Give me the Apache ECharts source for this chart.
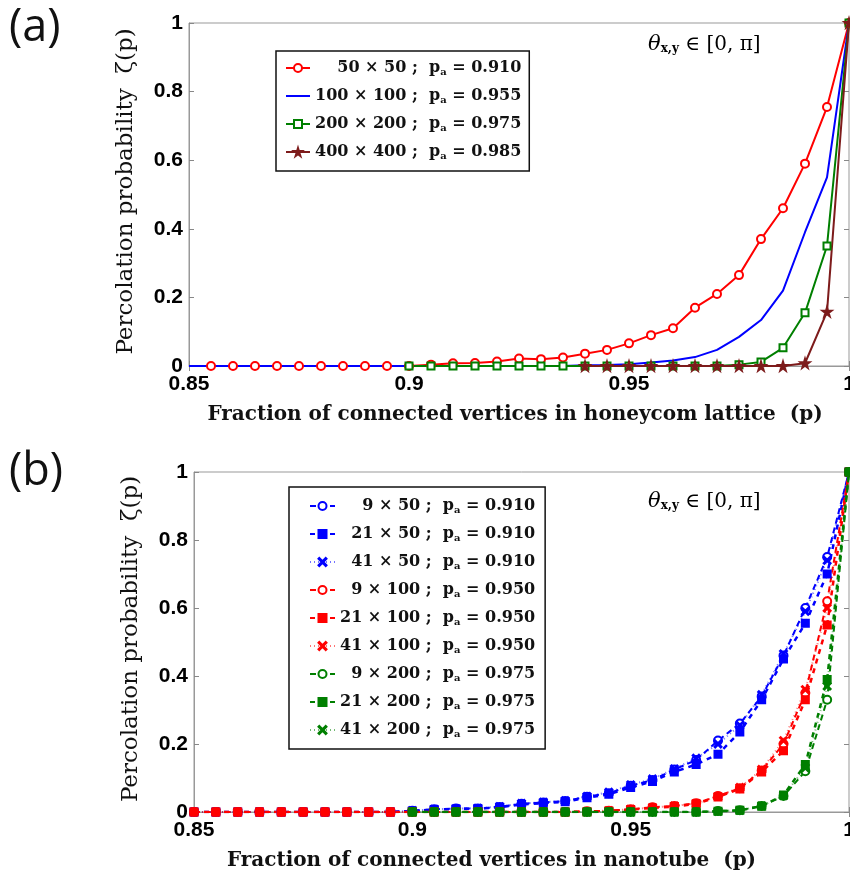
<!DOCTYPE html>
<html>
<head>
<meta charset="utf-8">
<title>Percolation probability</title>
<script src="https://cdn.jsdelivr.net/npm/echarts@6/dist/echarts.min.js"></script>
<style>
  html, body { margin: 0; padding: 0; background: #fff; }
  #chart { width: 850px; height: 877px; }
</style>
</head>
<body>
<div id="chart"></div>
<script>
/* two stacked panels: (a) honeycomb lattice, (b) nanotube */

// --- data ---
const P = [0.85, 0.855, 0.86, 0.865, 0.87, 0.875, 0.88, 0.885, 0.89, 0.895,
           0.9, 0.905, 0.91, 0.915, 0.92, 0.925, 0.93, 0.935, 0.94, 0.945,
           0.95, 0.955, 0.96, 0.965, 0.97, 0.975, 0.98, 0.985, 0.99, 0.995, 1.0];

// panel (a)
const SIZES_A = ['50 × 50', '100 × 100', '200 × 200', '400 × 400'];
const PA_A    = ['0.910', '0.955', '0.975', '0.985'];
const START_A = [0.855, 0.85, 0.9, 0.94];
const A_50  = [0, 0, 0, 0, 0, 0, 0, 0, 0,
               0, 0.004, 0.008, 0.009, 0.013, 0.022, 0.02, 0.025, 0.036, 0.047,
               0.066, 0.09, 0.11, 0.17, 0.21, 0.265, 0.37, 0.46, 0.59, 0.755, 1];
const A_100 = [0, 0, 0, 0, 0, 0, 0, 0, 0, 0,
               0, 0, 0, 0, 0, 0, 0, 0, 0.002, 0.003,
               0.005, 0.01, 0.016, 0.026, 0.047, 0.085, 0.134, 0.22, 0.39, 0.55, 1];
const A_200 = [0, 0, 0, 0, 0, 0, 0, 0, 0, 0,
               0, 0, 0, 0, 0, 0.004, 0.012, 0.053, 0.155, 0.35, 1];
const A_400 = [0, 0, 0, 0, 0, 0, 0, 0, 0, 0, 0.008, 0.158, 1];

// panel (b)
const SIZES_B = ['9 × 50', '21 × 50', '41 × 50', '9 × 100', '21 × 100', '41 × 100',
                 '9 × 200', '21 × 200', '41 × 200'];
const PA_B    = ['0.910', '0.910', '0.910', '0.950', '0.950', '0.950',
                 '0.975', '0.975', '0.975'];
const START_B = [0.85, 0.85, 0.85, 0.85, 0.85, 0.85, 0.9, 0.9, 0.9];
const B_9_50   = [0, 0, 0, 0, 0, 0, 0, 0, 0, 0,
                  0.004, 0.008, 0.01, 0.01, 0.015, 0.024, 0.028, 0.032, 0.045, 0.055,
                  0.077, 0.094, 0.125, 0.153, 0.21, 0.26, 0.34, 0.46, 0.60, 0.75, 1];
const B_21_50  = [0, 0, 0, 0, 0, 0, 0, 0, 0, 0,
                  0.003, 0.007, 0.009, 0.01, 0.014, 0.022, 0.026, 0.03, 0.042, 0.052,
                  0.072, 0.09, 0.118, 0.14, 0.17, 0.235, 0.33, 0.45, 0.555, 0.70, 1];
const B_41_50  = [0, 0, 0, 0, 0, 0, 0, 0, 0, 0,
                  0.004, 0.008, 0.01, 0.011, 0.016, 0.025, 0.029, 0.033, 0.046, 0.058,
                  0.08, 0.097, 0.127, 0.158, 0.2, 0.255, 0.345, 0.465, 0.59, 0.74, 1];
const B_9_100  = [0, 0, 0, 0, 0, 0, 0, 0, 0, 0,
                  0, 0, 0, 0, 0, 0, 0, 0, 0.002, 0.004,
                  0.008, 0.014, 0.018, 0.026, 0.047, 0.07, 0.122, 0.2, 0.35, 0.62, 1];
const B_21_100 = [0, 0, 0, 0, 0, 0, 0, 0, 0, 0,
                  0, 0, 0, 0, 0, 0, 0, 0, 0.001, 0.003,
                  0.007, 0.012, 0.016, 0.024, 0.044, 0.068, 0.118, 0.18, 0.33, 0.55, 1];
const B_41_100 = [0, 0, 0, 0, 0, 0, 0, 0, 0, 0,
                  0, 0, 0, 0, 0, 0, 0, 0, 0.002, 0.004,
                  0.008, 0.013, 0.018, 0.025, 0.046, 0.072, 0.125, 0.21, 0.36, 0.60, 1];
const B_9_200  = [0, 0, 0, 0, 0, 0, 0, 0, 0, 0,
                  0, 0, 0, 0, 0.003, 0.005, 0.018, 0.047, 0.12, 0.33, 1];
const B_21_200 = [0, 0, 0, 0, 0, 0, 0, 0, 0, 0,
                  0, 0, 0, 0, 0.002, 0.005, 0.017, 0.05, 0.14, 0.39, 1];
const B_41_200 = [0, 0, 0, 0, 0, 0, 0, 0, 0, 0,
                  0, 0, 0, 0, 0.002, 0.005, 0.018, 0.048, 0.13, 0.37, 1];

// --- styling helpers ---
const SERIF = '"DejaVu Serif", "Liberation Serif", serif';
const SANS  = '"Liberation Sans", Arial, sans-serif';
const STAR  = 'path://M50,0 L61,35 L98,35 L68,57 L79,91 L50,70 L21,91 L32,57 L2,35 L39,35Z';
const CROSS = 'path://M1,0 L5,4 L9,0 L10,1 L6,5 L10,9 L9,10 L5,6 L1,10 L0,9 L4,5 L0,1Z';

const RED = '#ff0000', BLUE = '#0000ff', GREEN = '#007f00', BROWN = '#7d1b1b';

function pairs(values, start) {
  const xs = P.slice(P.indexOf(start));
  return values.map((v, i) => [xs[i], v]);
}
function seriesName(size, pa) { return size + ' ; pa = ' + pa; }

// right-align the lattice sizes by padding with figure spaces (digit width)
function richLabel(size, pa, digits) {
  const pad = '\u2007'.repeat(digits - size.replace(/\D/g, '').length);
  return '{t|' + pad + size + ' ;  p}{s|a}{t| = ' + pa + '}';
}

const labelOf = {};
SIZES_A.forEach((s, i) => { labelOf[seriesName(s, PA_A[i])] = richLabel(s, PA_A[i], 6); });
SIZES_B.forEach((s, i) => { labelOf[seriesName(s, PA_B[i])] = richLabel(s, PA_B[i], 5); });

const legendRich = {
  t: { fontFamily: SERIF, fontWeight: 'bold', fontSize: 16, lineHeight: 20, color: '#111' },
  s: { fontFamily: SERIF, fontWeight: 'bold', fontSize: 10, lineHeight: 20, padding: [8, 0, 0, 0], color: '#111' }
};

// --- axes (bottom/left with labels, top/right mirrored ticks only) ---
function xAxes(gridIndex, title, padRight) {
  const base = {
    type: 'value', gridIndex, min: 0.85, max: 1, interval: 0.05,
    splitLine: { show: false },
    axisTick: { inside: true, length: 5, lineStyle: { color: '#888' } }
  };
  return [
    Object.assign({}, base, {
      position: 'bottom',
      axisLine: { lineStyle: { color: '#999' } },
      axisLabel: { color: '#000', fontFamily: SANS, fontWeight: 'bold', fontSize: 21, margin: 8,
                   formatter: v => String(+v.toFixed(2)) },
      name: title, nameLocation: 'middle', nameGap: 39,
      nameTextStyle: { fontFamily: SERIF, fontWeight: 'bold', fontSize: 20, color: '#111',
                       padding: [0, padRight, 0, 0] }
    }),
    Object.assign({}, base, {
      position: 'top', axisLine: { show: false }, axisLabel: { show: false }
    })
  ];
}
function yAxes(gridIndex) {
  const base = {
    type: 'value', gridIndex, min: 0, max: 1, interval: 0.2,
    splitLine: { show: false },
    axisTick: { inside: true, length: 5, lineStyle: { color: '#888' } }
  };
  return [
    Object.assign({}, base, {
      position: 'left',
      axisLine: { lineStyle: { color: '#999' } },
      axisLabel: { color: '#000', fontFamily: SANS, fontWeight: 'bold', fontSize: 21, margin: 6,
                   formatter: v => String(+v.toFixed(1)) },
      name: 'Percolation probability  ζ(p)', nameLocation: 'middle', nameGap: 51,
      nameTextStyle: { fontFamily: SERIF, fontSize: 23, color: '#111', padding: [0, 0, 0, 6] }
    }),
    Object.assign({}, base, {
      position: 'right', axisLine: { show: false }, axisLabel: { show: false }
    })
  ];
}

// --- series ---
const seriesA = [
  { vals: A_50,  color: RED,   symbol: 'emptyCircle', size: 8 },
  { vals: A_100, color: BLUE,  symbol: 'none',        size: 0 },
  { vals: A_200, color: GREEN, symbol: 'emptyRect',   size: 7 },
  { vals: A_400, color: BROWN, symbol: STAR,          size: 9 }
].map((d, i) => ({
  type: 'line', name: seriesName(SIZES_A[i], PA_A[i]),
  xAxisIndex: 0, yAxisIndex: 0,
  data: pairs(d.vals, START_A[i]),
  symbol: d.symbol, symbolSize: d.size, showSymbol: d.symbol !== 'none',
  color: d.color,
  lineStyle: { color: d.color, width: 2 },
  itemStyle: { color: d.color, borderColor: d.color, borderWidth: 2 },
  animation: false
}));

const B_VALUES = [B_9_50, B_21_50, B_41_50, B_9_100, B_21_100, B_41_100, B_9_200, B_21_200, B_41_200];
const B_COLORS = [BLUE, BLUE, BLUE, RED, RED, RED, GREEN, GREEN, GREEN];
const B_STYLE = [
  { symbol: 'emptyCircle', size: 8, dash: [6, 4], width: 2,   opacity: 1 },
  { symbol: 'rect',        size: 7, dash: [5, 5], width: 2.5, opacity: 1 },
  { symbol: CROSS,         size: 7, dash: [1, 3], width: 2,   opacity: 0.55 }
];
const seriesB = B_VALUES.map((vals, i) => {
  const st = B_STYLE[i % 3];
  const c = B_COLORS[i];
  return {
    type: 'line', name: seriesName(SIZES_B[i], PA_B[i]),
    xAxisIndex: 2, yAxisIndex: 2,
    data: pairs(vals, START_B[i]),
    symbol: st.symbol, symbolSize: st.size,
    color: c,
    lineStyle: { color: c, width: st.width, type: st.dash, opacity: st.opacity },
    itemStyle: { color: c, borderColor: c, borderWidth: 2 },
    animation: false
  };
});

// --- chart ---
const chart = echarts.init(document.getElementById('chart'), null, { renderer: 'canvas' });

const thetaRich = {
  th: { fontFamily: SERIF, fontStyle: 'italic', fontSize: 21, color: '#222' },
  sub: { fontFamily: SERIF, fontWeight: 'bold', fontSize: 12, padding: [9, 0, 0, 0], color: '#222' },
  t: { fontFamily: SERIF, fontSize: 20, color: '#222' }
};
const thetaText = '{th|θ}{sub|x,y}{t| ∈ [0, π]}';

chart.setOption({
  backgroundColor: '#fff',
  animation: false,
  grid: [
    { left: 189, right: 1, top: 23, height: 343, show: true, borderColor: '#999', borderWidth: 1,
      outerBoundsMode: 'none' },
    { left: 194, right: 1, top: 472, height: 340, show: true, borderColor: '#999', borderWidth: 1,
      outerBoundsMode: 'none' }
  ],
  xAxis: [].concat(
    xAxes(0, 'Fraction of connected vertices in honeycom lattice  (p)', 8),
    xAxes(1, 'Fraction of connected vertices in nanotube  (p)', 60)
  ),
  yAxis: [].concat(yAxes(0), yAxes(1)),
  legend: [
    {
      orient: 'vertical', left: 276, top: 51,
      padding: [8, 8, 10, 9], itemGap: 10, itemWidth: 24, itemHeight: 10,
      backgroundColor: '#fff', borderColor: '#111', borderWidth: 1.5,
      data: seriesA.map(s => s.symbol === 'none'
        ? { name: s.name, itemStyle: { opacity: 0 } }
        : s.name),
      formatter: name => labelOf[name],
      textStyle: { rich: legendRich }
    },
    {
      orient: 'vertical', left: 289, top: 487,
      padding: [10, 10, 10, 20], itemGap: 10, itemWidth: 25, itemHeight: 10,
      backgroundColor: '#fff', borderColor: '#111', borderWidth: 1.5,
      data: seriesB.map(s => s.name),
      formatter: name => labelOf[name],
      textStyle: { rich: legendRich }
    }
  ],
  graphic: [
    { type: 'text', left: 9, top: 6, style: { text: '(a)', fontFamily: '"Open Sans", Lato, sans-serif', fontSize: 45, fill: '#111' } },
    { type: 'text', left: 9, top: 450, style: { text: '(b)', fontFamily: '"Open Sans", Lato, sans-serif', fontSize: 45, fill: '#111' } },
    { type: 'text', left: 648, top: 34, style: { text: thetaText, rich: thetaRich } },
    { type: 'text', left: 648, top: 491, style: { text: thetaText, rich: thetaRich } }
  ],
  series: seriesA.concat(seriesB)
});

window.addEventListener('resize', () => chart.resize());
</script>
</body>
</html>
